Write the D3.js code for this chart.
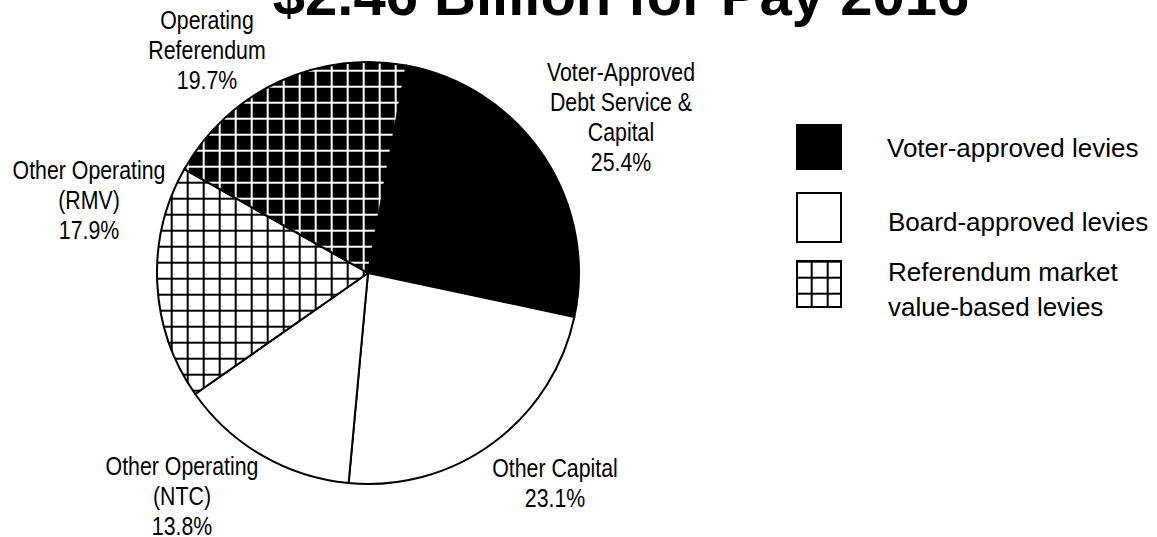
<!DOCTYPE html>
<html>
<head>
<meta charset="utf-8">
<script src="https://cdn.jsdelivr.net/npm/d3@7"></script>
<style>
  html, body { margin: 0; padding: 0; background: #ffffff; }
  svg { display: block; }
  .slice-label { font-family: "Liberation Sans", Arial, sans-serif; font-size: 26px; fill: #000; }
  .legend-label { font-family: "Liberation Sans", Arial, sans-serif; font-size: 26px; fill: #000; }
  .title { font-family: "Liberation Sans", Arial, sans-serif; font-weight: bold; font-size: 58px; fill: #000; }
</style>
</head>
<body>
<div id="chart"></div>
<script>
// Levy categories, clockwise from the top of the pie
const categories = [
  "Voter-Approved Debt Service & Capital",
  "Other Capital",
  "Other Operating (NTC)",
  "Other Operating (RMV)",
  "Operating Referendum"
];
// How each category is written on the chart (one entry per line)
const categoryLines = [
  ["Voter-Approved", "Debt Service &", "Capital"],
  ["Other Capital"],
  ["Other Operating", "(NTC)"],
  ["Other Operating", "(RMV)"],
  ["Operating", "Referendum"]
];
// Share of the total levy, percent
const shares = [25.4, 23.1, 13.8, 17.9, 19.7];
// Who approves each levy, and whether it is a referendum market value-based levy
const approvedBy = ["voter", "board", "board", "board", "voter"];
const marketValueBased = [false, false, false, true, true];

// Legend entries
const legendKinds = ["voter", "board", "referendum"];
const legendLines = [
  ["Voter-approved levies"],
  ["Board-approved levies"],
  ["Referendum market", "value-based levies"]
];

const titleText = "$2.46 Billion for Pay 2016";

// ---- layout ----
const W = 1157, H = 537;
const cx = 368, cy = 273, radius = 211;
const startDeg = 10.5;
const lineHeight = 30;
const narrow = 0.82;   // horizontal squeeze for the condensed slice labels

const svg = d3.select("#chart").append("svg")
  .attr("width", W).attr("height", H)
  .attr("viewBox", `0 0 ${W} ${H}`);

// Cross-hatch grid patterns shared by pie and legend (page coordinates)
const defs = svg.append("defs");
function gridPattern(id, bg, ink) {
  const p = defs.append("pattern")
    .attr("id", id)
    .attr("patternUnits", "userSpaceOnUse")
    .attr("x", 3.7).attr("y", -2.3)
    .attr("width", 16).attr("height", 16);
  p.append("rect").attr("width", 16).attr("height", 16).attr("fill", bg);
  p.append("rect").attr("x", 7).attr("y", 0).attr("width", 2).attr("height", 16).attr("fill", ink);
  p.append("rect").attr("x", 0).attr("y", 7).attr("width", 16).attr("height", 2).attr("fill", ink);
}
gridPattern("grid-on-black", "#000", "#fff");
gridPattern("grid-on-white", "#fff", "#000");

function fillFor(approval, gridded) {
  if (gridded) return approval === "voter" ? "url(#grid-on-black)" : "url(#grid-on-white)";
  return approval === "voter" ? "#000" : "#fff";
}

// Title (sits partly above the top edge)
svg.append("text")
  .attr("class", "title")
  .attr("x", 621).attr("y", 15)
  .attr("text-anchor", "middle")
  .text(titleText);

// ---- pie ----
const rows = categories.map((c, i) => ({
  category: c, lines: categoryLines[i], value: shares[i],
  approval: approvedBy[i], gridded: marketValueBased[i]
}));

const pie = d3.pie()
  .sort(null)
  .value(d => d.value)
  .startAngle(startDeg * Math.PI / 180)
  .endAngle(startDeg * Math.PI / 180 + 2 * Math.PI);

const arc = d3.arc().innerRadius(0).outerRadius(radius);

const g = svg.append("g").attr("transform", `translate(${cx},${cy})`);
g.selectAll("path.slice")
  .data(pie(rows))
  .join("path")
  .attr("class", "slice")
  .attr("d", arc)
  .attr("fill", d => fillFor(d.data.approval, d.data.gridded))
  .attr("stroke", "#000")
  .attr("stroke-width", 2)
  .attr("stroke-linejoin", "round");

// ---- slice labels ----
const pct = d3.format(".1f");
// where each label block is set: centre x and first baseline
const labelAt = {
  "Voter-Approved Debt Service & Capital": [621, 81],
  "Other Capital": [555, 477],
  "Other Operating (NTC)": [182, 475],
  "Other Operating (RMV)": [89, 179],
  "Operating Referendum": [207, 29]
};
rows.forEach(r => {
  const [x, y0] = labelAt[r.category];
  const t = svg.append("text")
    .attr("class", "slice-label")
    .attr("text-anchor", "middle")
    .attr("transform", `translate(${x},0) scale(${narrow},1)`);
  r.lines.concat([pct(r.value) + "%"]).forEach((ln, i) => {
    t.append("tspan").attr("x", 0).attr("y", y0 + i * lineHeight).text(ln);
  });
});

// ---- legend ----
const legendBoxes = [
  { kind: "voter",      x: 796, y: 124, w: 46, h: 46, stroke: false },
  { kind: "board",      x: 797, y: 193, w: 44, h: 49, stroke: true },
  { kind: "referendum", x: 797, y: 261, w: 44, h: 46, stroke: true }
];
const legendText = { voter: [887, 157], board: [888, 231], referendum: [888, 281] };
const legendLineHeight = 35;

legendKinds.forEach((k, i) => {
  const b = legendBoxes.find(d => d.kind === k);
  svg.append("rect")
    .attr("x", b.x).attr("y", b.y).attr("width", b.w).attr("height", b.h)
    .attr("fill", k === "voter" ? "#000" : k === "board" ? "#fff" : "url(#grid-on-white)")
    .attr("stroke", b.stroke ? "#000" : "none")
    .attr("stroke-width", 2);
  const [tx, ty] = legendText[k];
  const t = svg.append("text").attr("class", "legend-label");
  legendLines[i].forEach((ln, j) => {
    t.append("tspan").attr("x", tx).attr("y", ty + j * legendLineHeight).text(ln);
  });
});
</script>
</body>
</html>
